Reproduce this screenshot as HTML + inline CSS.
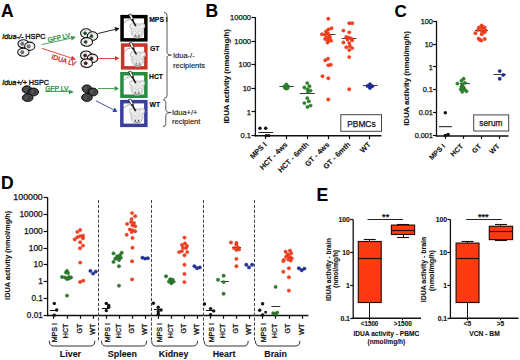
<!DOCTYPE html>
<html><head><meta charset="utf-8"><style>
html,body{margin:0;padding:0;background:#fff;}
svg{display:block;font-family:"Liberation Sans", sans-serif;}
</style></head><body>
<svg width="520" height="360" viewBox="0 0 520 360" font-family='"Liberation Sans", sans-serif'>
<rect width="520" height="360" fill="#fff"/>
<text x="1.00" y="16.50" font-size="17.5" font-weight="bold" text-anchor="start" fill="#000" stroke="#000" stroke-width="0.1">A</text>
<text x="205.40" y="16.60" font-size="17.5" font-weight="bold" text-anchor="start" fill="#000" stroke="#000" stroke-width="0.1">B</text>
<text x="394.50" y="16.60" font-size="17.0" font-weight="bold" text-anchor="start" fill="#000" stroke="#000" stroke-width="0.1">C</text>
<text x="1.00" y="188.60" font-size="17.5" font-weight="bold" text-anchor="start" fill="#000" stroke="#000" stroke-width="0.1">D</text>
<text x="316.60" y="200.80" font-size="17.5" font-weight="bold" text-anchor="start" fill="#000" stroke="#000" stroke-width="0.1">E</text>
<text x="2.3" y="39.0" font-size="7.6" fill="#111" stroke="#111" stroke-width="0.35" textLength="43.3" lengthAdjust="spacingAndGlyphs"><tspan font-style="italic">Idua-/-</tspan> HSPC</text>
<ellipse cx="23.35" cy="43.8" rx="5.35" ry="4.1" fill="#fbfafa" stroke="#111" stroke-width="1.1"/>
<ellipse cx="23.950000000000003" cy="43.9" rx="3.8499999999999996" ry="2.8" fill="none" stroke="#d4cccc" stroke-width="0.6"/>
<circle cx="22.35" cy="43.8" r="1.5" fill="#d8d8d8" stroke="#111" stroke-width="0.7"/>
<circle cx="22.35" cy="43.8" r="0.6" fill="#111"/>
<ellipse cx="29.75" cy="46.25" rx="5.05" ry="4.15" fill="#fbfafa" stroke="#111" stroke-width="1.1"/>
<ellipse cx="30.35" cy="46.35" rx="3.55" ry="2.8500000000000005" fill="none" stroke="#d4cccc" stroke-width="0.6"/>
<circle cx="28.75" cy="46.25" r="1.5" fill="#d8d8d8" stroke="#111" stroke-width="0.7"/>
<circle cx="28.75" cy="46.25" r="0.6" fill="#111"/>
<ellipse cx="23.35" cy="52.2" rx="5.65" ry="4.0" fill="#fbfafa" stroke="#111" stroke-width="1.1"/>
<ellipse cx="23.950000000000003" cy="52.300000000000004" rx="4.15" ry="2.7" fill="none" stroke="#d4cccc" stroke-width="0.6"/>
<circle cx="22.35" cy="52.2" r="1.5" fill="#d8d8d8" stroke="#111" stroke-width="0.7"/>
<circle cx="22.35" cy="52.2" r="0.6" fill="#111"/>
<ellipse cx="86.1" cy="33.2" rx="5.5" ry="4.4" fill="#fbfafa" stroke="#111" stroke-width="1.1"/>
<ellipse cx="86.69999999999999" cy="33.300000000000004" rx="4.0" ry="3.1000000000000005" fill="none" stroke="#d4cccc" stroke-width="0.6"/>
<circle cx="85.1" cy="33.2" r="1.5" fill="#2f6f3a" stroke="#1d4a25" stroke-width="0.7"/>
<circle cx="85.1" cy="33.2" r="0.6" fill="#111"/>
<ellipse cx="92.5" cy="36.1" rx="5.2" ry="4.3" fill="#fbfafa" stroke="#111" stroke-width="1.1"/>
<ellipse cx="93.1" cy="36.2" rx="3.7" ry="3.0" fill="none" stroke="#d4cccc" stroke-width="0.6"/>
<circle cx="91.5" cy="36.1" r="1.5" fill="#2f6f3a" stroke="#1d4a25" stroke-width="0.7"/>
<circle cx="91.5" cy="36.1" r="0.6" fill="#111"/>
<ellipse cx="86.7" cy="41.9" rx="5.8" ry="4.3" fill="#fbfafa" stroke="#111" stroke-width="1.1"/>
<ellipse cx="87.3" cy="42.0" rx="4.3" ry="3.0" fill="none" stroke="#d4cccc" stroke-width="0.6"/>
<circle cx="85.7" cy="41.9" r="1.5" fill="#2f6f3a" stroke="#1d4a25" stroke-width="0.7"/>
<circle cx="85.7" cy="41.9" r="0.6" fill="#111"/>
<ellipse cx="86.1" cy="55.4" rx="5.5" ry="4.4" fill="#fbfafa" stroke="#111" stroke-width="1.1"/>
<ellipse cx="86.69999999999999" cy="55.5" rx="4.0" ry="3.1000000000000005" fill="none" stroke="#d4cccc" stroke-width="0.6"/>
<circle cx="85.1" cy="55.4" r="1.5" fill="#6a1a22" stroke="#3a0a10" stroke-width="0.7"/>
<circle cx="85.1" cy="55.4" r="0.6" fill="#111"/>
<ellipse cx="92.5" cy="58.4" rx="5.2" ry="4.3" fill="#fbfafa" stroke="#111" stroke-width="1.1"/>
<ellipse cx="93.1" cy="58.5" rx="3.7" ry="3.0" fill="none" stroke="#d4cccc" stroke-width="0.6"/>
<circle cx="91.5" cy="58.4" r="1.5" fill="#6a1a22" stroke="#3a0a10" stroke-width="0.7"/>
<circle cx="91.5" cy="58.4" r="0.6" fill="#111"/>
<ellipse cx="86.7" cy="63.2" rx="5.8" ry="4.3" fill="#fbfafa" stroke="#111" stroke-width="1.1"/>
<ellipse cx="87.3" cy="63.300000000000004" rx="4.3" ry="3.0" fill="none" stroke="#d4cccc" stroke-width="0.6"/>
<circle cx="85.7" cy="63.2" r="1.5" fill="#6a1a22" stroke="#3a0a10" stroke-width="0.7"/>
<circle cx="85.7" cy="63.2" r="0.6" fill="#111"/>
<line x1="41.70" y1="44.60" x2="71.12" y2="38.17" stroke="#3a9a48" stroke-width="0.9"/>
<polygon points="76.00,37.10 71.63,40.51 70.60,35.82" fill="#3a9a48"/>
<line x1="41.70" y1="48.30" x2="71.25" y2="57.95" stroke="#d8382c" stroke-width="0.9"/>
<polygon points="76.00,59.50 70.50,60.23 71.99,55.67" fill="#d8382c"/>
<text x="48.20" y="42.30" font-size="6.6" font-weight="normal" text-anchor="start" fill="#2a8a3a" transform="rotate(-12.5 48.20 42.30)" stroke="#2a8a3a" stroke-width="0.3">GFP LV</text>
<text x="51.00" y="58.80" font-size="6.7" font-weight="normal" text-anchor="start" fill="#c02a2a" transform="rotate(17 51.00 58.80)" stroke="#c02a2a" stroke-width="0.3">IDUA LV</text>
<line x1="97.70" y1="33.60" x2="115.13" y2="29.36" stroke="#111" stroke-width="0.9"/>
<polygon points="119.50,28.30 115.69,31.70 114.56,27.03" fill="#111"/>
<line x1="97.70" y1="58.50" x2="115.00" y2="58.50" stroke="#d8382c" stroke-width="0.9"/>
<polygon points="119.50,58.30 115.00,60.70 115.00,55.90" fill="#d8382c"/>
<text x="2.3" y="85.0" font-size="7.6" fill="#111" stroke="#111" stroke-width="0.35" textLength="46.7" lengthAdjust="spacingAndGlyphs"><tspan font-style="italic">Idua+/+</tspan> HSPC</text>
<ellipse cx="27.0" cy="89.6" rx="4.8" ry="3.8" fill="#3a3a3a" stroke="#000" stroke-width="0.9"/>
<ellipse cx="27.3" cy="89.69999999999999" rx="3.3" ry="2.5" fill="none" stroke="#666" stroke-width="0.5"/>
<circle cx="26.0" cy="89.39999999999999" r="1.3" fill="#333" stroke="#777" stroke-width="0.4"/>
<circle cx="26.0" cy="89.39999999999999" r="0.45" fill="#ccc"/>
<ellipse cx="33.6" cy="92.0" rx="4.9" ry="3.95" fill="#3a3a3a" stroke="#000" stroke-width="0.9"/>
<ellipse cx="33.9" cy="92.1" rx="3.4000000000000004" ry="2.6500000000000004" fill="none" stroke="#666" stroke-width="0.5"/>
<circle cx="32.6" cy="91.8" r="1.3" fill="#333" stroke="#777" stroke-width="0.4"/>
<circle cx="32.6" cy="91.8" r="0.45" fill="#ccc"/>
<ellipse cx="27.65" cy="97.7" rx="5.35" ry="3.8" fill="#3a3a3a" stroke="#000" stroke-width="0.9"/>
<ellipse cx="27.95" cy="97.8" rx="3.8499999999999996" ry="2.5" fill="none" stroke="#666" stroke-width="0.5"/>
<circle cx="26.65" cy="97.5" r="1.3" fill="#333" stroke="#777" stroke-width="0.4"/>
<circle cx="26.65" cy="97.5" r="0.45" fill="#ccc"/>
<ellipse cx="86.9" cy="88.8" rx="4.8" ry="3.9" fill="#3a3a3a" stroke="#000" stroke-width="0.9"/>
<ellipse cx="87.2" cy="88.89999999999999" rx="3.3" ry="2.5999999999999996" fill="none" stroke="#666" stroke-width="0.5"/>
<circle cx="85.9" cy="88.6" r="1.3" fill="#333" stroke="#777" stroke-width="0.4"/>
<circle cx="85.9" cy="88.6" r="0.45" fill="#ccc"/>
<ellipse cx="93.0" cy="92.0" rx="4.9" ry="3.95" fill="#3a3a3a" stroke="#000" stroke-width="0.9"/>
<ellipse cx="93.3" cy="92.1" rx="3.4000000000000004" ry="2.6500000000000004" fill="none" stroke="#666" stroke-width="0.5"/>
<circle cx="92.0" cy="91.8" r="1.3" fill="#333" stroke="#777" stroke-width="0.4"/>
<circle cx="92.0" cy="91.8" r="0.45" fill="#ccc"/>
<ellipse cx="86.9" cy="97.5" rx="5.35" ry="3.9" fill="#3a3a3a" stroke="#000" stroke-width="0.9"/>
<ellipse cx="87.2" cy="97.6" rx="3.8499999999999996" ry="2.5999999999999996" fill="none" stroke="#666" stroke-width="0.5"/>
<circle cx="85.9" cy="97.3" r="1.3" fill="#333" stroke="#777" stroke-width="0.4"/>
<circle cx="85.9" cy="97.3" r="0.45" fill="#ccc"/>
<text x="45.20" y="90.60" font-size="6.5" font-weight="normal" text-anchor="start" fill="#2a8a3a" textLength="23.30" lengthAdjust="spacingAndGlyphs" stroke="#2a8a3a" stroke-width="0.25">GFP LV</text>
<line x1="45.00" y1="91.50" x2="68.90" y2="91.50" stroke="#3a9a48" stroke-width="0.9"/>
<polygon points="73.90,91.90 68.90,94.30 68.90,89.50" fill="#3a9a48"/>
<line x1="98.00" y1="88.50" x2="114.50" y2="88.50" stroke="#3a9a48" stroke-width="0.9"/>
<polygon points="119.00,88.50 114.50,90.90 114.50,86.10" fill="#3a9a48"/>
<line x1="96.00" y1="100.80" x2="113.49" y2="109.75" stroke="#2a3f9f" stroke-width="0.9"/>
<polygon points="117.50,111.80 112.40,111.89 114.59,107.61" fill="#2a3f9f"/>
<rect x="122.05" y="16.65" width="23.80" height="23.20" fill="#fff" stroke="#000" stroke-width="3.5"/>
<path d="M124.00 23.20 q2.5 -3.6 6.0 -3.6" stroke="#555560" stroke-width="0.55" fill="none"/>
<circle cx="132.40" cy="26.10" r="2.8" fill="#e4e4e4" stroke="#a0a0a0" stroke-width="0.5"/>
<circle cx="142.20" cy="26.10" r="2.8" fill="#e4e4e4" stroke="#a0a0a0" stroke-width="0.5"/>
<ellipse cx="137.20" cy="31.10" rx="6.2" ry="7.4" fill="#e6e6e6" stroke="#9a9a9a" stroke-width="0.55"/>
<circle cx="132.40" cy="26.30" r="1.6" fill="#f4f4f4"/>
<circle cx="142.20" cy="26.30" r="1.6" fill="#f4f4f4"/>
<circle cx="134.40" cy="32.70" r="1.7" fill="#f6f6f6" stroke="#aaa" stroke-width="0.4"/>
<circle cx="140.00" cy="32.70" r="1.7" fill="#f6f6f6" stroke="#aaa" stroke-width="0.4"/>
<path d="M134.20 36.40 q3.0 2.2 6.0 0" stroke="#555" stroke-width="0.7" fill="none"/>
<circle cx="135.70" cy="35.40" r="0.6" fill="#333"/><circle cx="138.70" cy="35.40" r="0.6" fill="#333"/>
<path d="M128.70 14.50 L131.10 14.00 L133.90 20.10 L131.70 20.80 Z" fill="#fff" stroke="#111" stroke-width="0.7"/>
<path d="M131.90 19.10 L135.90 26.10" stroke="#111" stroke-width="1.5"/>
<rect x="122.65" y="45.05" width="23.20" height="22.80" fill="#fff" stroke="#c4362a" stroke-width="3.5"/>
<path d="M124.60 51.60 q2.5 -3.6 6.0 -3.6" stroke="#555560" stroke-width="0.55" fill="none"/>
<circle cx="133.00" cy="54.50" r="2.8" fill="#e4e4e4" stroke="#a0a0a0" stroke-width="0.5"/>
<circle cx="142.80" cy="54.50" r="2.8" fill="#e4e4e4" stroke="#a0a0a0" stroke-width="0.5"/>
<ellipse cx="137.80" cy="59.50" rx="6.2" ry="7.4" fill="#e6e6e6" stroke="#9a9a9a" stroke-width="0.55"/>
<circle cx="133.00" cy="54.70" r="1.6" fill="#f4f4f4"/>
<circle cx="142.80" cy="54.70" r="1.6" fill="#f4f4f4"/>
<circle cx="135.00" cy="61.10" r="1.7" fill="#f6f6f6" stroke="#aaa" stroke-width="0.4"/>
<circle cx="140.60" cy="61.10" r="1.7" fill="#f6f6f6" stroke="#aaa" stroke-width="0.4"/>
<path d="M134.80 64.80 q3.0 2.2 6.0 0" stroke="#555" stroke-width="0.7" fill="none"/>
<circle cx="136.30" cy="63.80" r="0.6" fill="#333"/><circle cx="139.30" cy="63.80" r="0.6" fill="#333"/>
<path d="M129.30 42.90 L131.70 42.40 L134.50 48.50 L132.30 49.20 Z" fill="#fff" stroke="#111" stroke-width="0.7"/>
<path d="M132.50 47.50 L136.50 54.50" stroke="#111" stroke-width="1.5"/>
<rect x="121.95" y="73.75" width="23.90" height="22.50" fill="#fff" stroke="#268c42" stroke-width="3.5"/>
<path d="M123.90 80.30 q2.5 -3.6 6.0 -3.6" stroke="#555560" stroke-width="0.55" fill="none"/>
<circle cx="132.30" cy="83.20" r="2.8" fill="#e4e4e4" stroke="#a0a0a0" stroke-width="0.5"/>
<circle cx="142.10" cy="83.20" r="2.8" fill="#e4e4e4" stroke="#a0a0a0" stroke-width="0.5"/>
<ellipse cx="137.10" cy="88.20" rx="6.2" ry="7.4" fill="#e6e6e6" stroke="#9a9a9a" stroke-width="0.55"/>
<circle cx="132.30" cy="83.40" r="1.6" fill="#f4f4f4"/>
<circle cx="142.10" cy="83.40" r="1.6" fill="#f4f4f4"/>
<circle cx="134.30" cy="89.80" r="1.7" fill="#f6f6f6" stroke="#aaa" stroke-width="0.4"/>
<circle cx="139.90" cy="89.80" r="1.7" fill="#f6f6f6" stroke="#aaa" stroke-width="0.4"/>
<path d="M134.10 93.50 q3.0 2.2 6.0 0" stroke="#555" stroke-width="0.7" fill="none"/>
<circle cx="135.60" cy="92.50" r="0.6" fill="#333"/><circle cx="138.60" cy="92.50" r="0.6" fill="#333"/>
<path d="M128.60 71.60 L131.00 71.10 L133.80 77.20 L131.60 77.90 Z" fill="#fff" stroke="#111" stroke-width="0.7"/>
<path d="M131.80 76.20 L135.80 83.20" stroke="#111" stroke-width="1.5"/>
<rect x="121.85" y="101.65" width="24.00" height="23.70" fill="#fff" stroke="#3a3f9e" stroke-width="3.5"/>
<path d="M123.80 108.20 q2.5 -3.6 6.0 -3.6" stroke="#555560" stroke-width="0.55" fill="none"/>
<circle cx="132.20" cy="111.10" r="2.8" fill="#e4e4e4" stroke="#a0a0a0" stroke-width="0.5"/>
<circle cx="142.00" cy="111.10" r="2.8" fill="#e4e4e4" stroke="#a0a0a0" stroke-width="0.5"/>
<ellipse cx="137.00" cy="116.10" rx="6.2" ry="7.4" fill="#e6e6e6" stroke="#9a9a9a" stroke-width="0.55"/>
<circle cx="132.20" cy="111.30" r="1.6" fill="#f4f4f4"/>
<circle cx="142.00" cy="111.30" r="1.6" fill="#f4f4f4"/>
<circle cx="134.20" cy="117.70" r="1.7" fill="#f6f6f6" stroke="#aaa" stroke-width="0.4"/>
<circle cx="139.80" cy="117.70" r="1.7" fill="#f6f6f6" stroke="#aaa" stroke-width="0.4"/>
<path d="M134.00 121.40 q3.0 2.2 6.0 0" stroke="#555" stroke-width="0.7" fill="none"/>
<circle cx="135.50" cy="120.40" r="0.6" fill="#333"/><circle cx="138.50" cy="120.40" r="0.6" fill="#333"/>
<path d="M128.50 99.50 L130.90 99.00 L133.70 105.10 L131.50 105.80 Z" fill="#fff" stroke="#111" stroke-width="0.7"/>
<path d="M131.70 104.10 L135.70 111.10" stroke="#111" stroke-width="1.5"/>
<text x="149.20" y="22.40" font-size="6.8" font-weight="bold" text-anchor="start" fill="#000" stroke="#000" stroke-width="0.1">MPS I</text>
<text x="150.00" y="51.10" font-size="6.8" font-weight="bold" text-anchor="start" fill="#000" stroke="#000" stroke-width="0.1">GT</text>
<text x="149.00" y="79.10" font-size="6.8" font-weight="bold" text-anchor="start" fill="#000" stroke="#000" stroke-width="0.1">HCT</text>
<text x="149.50" y="106.60" font-size="6.8" font-weight="bold" text-anchor="start" fill="#000" stroke="#000" stroke-width="0.1">WT</text>
<path d="M164.00 12.50 q3 0 3 3 L167.00 52.00 q0 3 4.40 3 q-4.40 0 -4.40 3 L167.00 95.40 q0 3 -3 3" fill="none" stroke="#3a3a3a" stroke-width="0.85"/>
<path d="M162.80 99.60 q3 0 3 3 L165.80 109.60 q0 3 5.40 3 q-5.40 0 -5.40 3 L165.80 123.70 q0 3 -3 3" fill="none" stroke="#3a3a3a" stroke-width="0.85"/>
<text x="173.00" y="58.30" font-size="7.5" font-weight="normal" text-anchor="start" fill="#222" stroke="#222" stroke-width="0.15">Idua-/-</text>
<text x="173.00" y="67.70" font-size="7.5" font-weight="normal" text-anchor="start" fill="#222" stroke="#222" stroke-width="0.15">recipients</text>
<text x="172.00" y="114.90" font-size="7.5" font-weight="normal" text-anchor="start" fill="#222" stroke="#222" stroke-width="0.15">Idua+/+</text>
<text x="172.00" y="123.70" font-size="7.5" font-weight="normal" text-anchor="start" fill="#222" stroke="#222" stroke-width="0.15">recipient</text>
<line x1="255.40" y1="17.00" x2="255.40" y2="136.40" stroke="#111" stroke-width="1.3"/>
<line x1="254.80" y1="135.80" x2="381.50" y2="135.80" stroke="#111" stroke-width="1.5"/>
<line x1="251.50" y1="17.50" x2="255.40" y2="17.50" stroke="#111" stroke-width="1.2"/>
<text x="251.10" y="20.10" font-size="7.6" font-weight="normal" text-anchor="end" fill="#111" stroke="#111" stroke-width="0.25">10000</text>
<line x1="251.50" y1="41.50" x2="255.40" y2="41.50" stroke="#111" stroke-width="1.2"/>
<text x="251.10" y="43.70" font-size="7.6" font-weight="normal" text-anchor="end" fill="#111" stroke="#111" stroke-width="0.25">1000</text>
<line x1="251.50" y1="64.50" x2="255.40" y2="64.50" stroke="#111" stroke-width="1.2"/>
<text x="251.10" y="67.30" font-size="7.6" font-weight="normal" text-anchor="end" fill="#111" stroke="#111" stroke-width="0.25">100</text>
<line x1="251.50" y1="88.50" x2="255.40" y2="88.50" stroke="#111" stroke-width="1.2"/>
<text x="251.10" y="90.90" font-size="7.6" font-weight="normal" text-anchor="end" fill="#111" stroke="#111" stroke-width="0.25">10</text>
<line x1="251.50" y1="111.50" x2="255.40" y2="111.50" stroke="#111" stroke-width="1.2"/>
<text x="251.10" y="114.50" font-size="7.6" font-weight="normal" text-anchor="end" fill="#111" stroke="#111" stroke-width="0.25">1</text>
<line x1="251.50" y1="135.50" x2="255.40" y2="135.50" stroke="#111" stroke-width="1.2"/>
<text x="251.10" y="138.10" font-size="7.6" font-weight="normal" text-anchor="end" fill="#111" stroke="#111" stroke-width="0.25">0.1</text>
<line x1="265.50" y1="135.80" x2="265.50" y2="139.10" stroke="#111" stroke-width="1.2"/>
<line x1="286.50" y1="135.80" x2="286.50" y2="139.10" stroke="#111" stroke-width="1.2"/>
<line x1="307.50" y1="135.80" x2="307.50" y2="139.10" stroke="#111" stroke-width="1.2"/>
<line x1="328.50" y1="135.80" x2="328.50" y2="139.10" stroke="#111" stroke-width="1.2"/>
<line x1="349.50" y1="135.80" x2="349.50" y2="139.10" stroke="#111" stroke-width="1.2"/>
<line x1="369.50" y1="135.80" x2="369.50" y2="139.10" stroke="#111" stroke-width="1.2"/>
<text x="267.20" y="145.10" font-size="7.4" font-weight="bold" text-anchor="end" fill="#111" transform="rotate(-45 267.20 145.10)" stroke="#111" stroke-width="0.1">MPS I</text>
<text x="288.00" y="145.10" font-size="7.4" font-weight="bold" text-anchor="end" fill="#111" transform="rotate(-45 288.00 145.10)" stroke="#111" stroke-width="0.1">HCT - 4ws</text>
<text x="308.90" y="145.10" font-size="7.4" font-weight="bold" text-anchor="end" fill="#111" transform="rotate(-45 308.90 145.10)" stroke="#111" stroke-width="0.1">HCT - 6mth</text>
<text x="329.80" y="145.10" font-size="7.4" font-weight="bold" text-anchor="end" fill="#111" transform="rotate(-45 329.80 145.10)" stroke="#111" stroke-width="0.1">GT - 4ws</text>
<text x="350.60" y="145.10" font-size="7.4" font-weight="bold" text-anchor="end" fill="#111" transform="rotate(-45 350.60 145.10)" stroke="#111" stroke-width="0.1">GT - 6mth</text>
<text x="371.20" y="145.10" font-size="7.4" font-weight="bold" text-anchor="end" fill="#111" transform="rotate(-45 371.20 145.10)" stroke="#111" stroke-width="0.1">WT</text>
<text x="229.00" y="76.40" font-size="7.6" font-weight="bold" text-anchor="middle" fill="#111" transform="rotate(-90 229.00 76.40)" textLength="94.30" lengthAdjust="spacingAndGlyphs" stroke="#111" stroke-width="0.1">IDUA activity (nmol/mg/h)</text>
<rect x="340.80" y="114.70" width="40.70" height="16.60" fill="#fff" stroke="#444" stroke-width="1.0"/>
<text x="361.40" y="126.50" font-size="8.4" font-weight="normal" text-anchor="middle" fill="#111" stroke="#111" stroke-width="0.25">PBMCs</text>
<line x1="258.30" y1="132.50" x2="273.00" y2="132.50" stroke="#222" stroke-width="1.0"/>
<line x1="279.40" y1="86.50" x2="293.75" y2="86.50" stroke="#222" stroke-width="0.9"/>
<line x1="300.00" y1="93.50" x2="314.75" y2="93.50" stroke="#222" stroke-width="0.9"/>
<line x1="324.00" y1="34.50" x2="335.40" y2="34.50" stroke="#222" stroke-width="0.9"/>
<line x1="341.70" y1="38.50" x2="356.25" y2="38.50" stroke="#222" stroke-width="0.9"/>
<line x1="363.00" y1="85.50" x2="377.50" y2="85.50" stroke="#222" stroke-width="0.9"/>
<line x1="436.50" y1="20.80" x2="436.50" y2="136.50" stroke="#111" stroke-width="1.3"/>
<line x1="435.90" y1="135.90" x2="508.50" y2="135.90" stroke="#111" stroke-width="1.5"/>
<line x1="432.90" y1="21.50" x2="436.50" y2="21.50" stroke="#111" stroke-width="1.2"/>
<text x="432.90" y="23.85" font-size="7.3" font-weight="normal" text-anchor="end" fill="#111" stroke="#111" stroke-width="0.25">100</text>
<line x1="432.90" y1="44.50" x2="436.50" y2="44.50" stroke="#111" stroke-width="1.2"/>
<text x="432.90" y="46.69" font-size="7.3" font-weight="normal" text-anchor="end" fill="#111" stroke="#111" stroke-width="0.25">10</text>
<line x1="432.90" y1="66.50" x2="436.50" y2="66.50" stroke="#111" stroke-width="1.2"/>
<text x="432.90" y="69.53" font-size="7.3" font-weight="normal" text-anchor="end" fill="#111" stroke="#111" stroke-width="0.25">1</text>
<line x1="432.90" y1="89.50" x2="436.50" y2="89.50" stroke="#111" stroke-width="1.2"/>
<text x="432.90" y="92.37" font-size="7.3" font-weight="normal" text-anchor="end" fill="#111" stroke="#111" stroke-width="0.25">0.1</text>
<line x1="432.90" y1="112.50" x2="436.50" y2="112.50" stroke="#111" stroke-width="1.2"/>
<text x="432.90" y="115.21" font-size="7.3" font-weight="normal" text-anchor="end" fill="#111" stroke="#111" stroke-width="0.25">0.01</text>
<line x1="432.90" y1="135.50" x2="436.50" y2="135.50" stroke="#111" stroke-width="1.2"/>
<text x="432.90" y="138.05" font-size="7.3" font-weight="normal" text-anchor="end" fill="#111" stroke="#111" stroke-width="0.25">0.001</text>
<line x1="445.50" y1="135.90" x2="445.50" y2="138.90" stroke="#111" stroke-width="1.2"/>
<line x1="463.50" y1="135.90" x2="463.50" y2="138.90" stroke="#111" stroke-width="1.2"/>
<line x1="481.50" y1="135.90" x2="481.50" y2="138.90" stroke="#111" stroke-width="1.2"/>
<line x1="499.50" y1="135.90" x2="499.50" y2="138.90" stroke="#111" stroke-width="1.2"/>
<text x="445.60" y="146.70" font-size="7.1" font-weight="bold" text-anchor="end" fill="#111" transform="rotate(-45 445.60 146.70)" stroke="#111" stroke-width="0.1">MPS I</text>
<text x="463.70" y="146.70" font-size="7.1" font-weight="bold" text-anchor="end" fill="#111" transform="rotate(-45 463.70 146.70)" stroke="#111" stroke-width="0.1">HCT</text>
<text x="481.80" y="146.70" font-size="7.1" font-weight="bold" text-anchor="end" fill="#111" transform="rotate(-45 481.80 146.70)" stroke="#111" stroke-width="0.1">GT</text>
<text x="500.10" y="146.70" font-size="7.1" font-weight="bold" text-anchor="end" fill="#111" transform="rotate(-45 500.10 146.70)" stroke="#111" stroke-width="0.1">WT</text>
<text x="408.80" y="78.50" font-size="7.6" font-weight="bold" text-anchor="middle" fill="#111" transform="rotate(-90 408.80 78.50)" textLength="94.70" lengthAdjust="spacingAndGlyphs" stroke="#111" stroke-width="0.1">IDUA activity (nmol/mg/h)</text>
<rect x="473.70" y="114.90" width="35.00" height="16.10" fill="#fff" stroke="#444" stroke-width="1.0"/>
<text x="490.90" y="126.00" font-size="8.3" font-weight="normal" text-anchor="middle" fill="#111" stroke="#111" stroke-width="0.25">serum</text>
<line x1="439.00" y1="126.60" x2="451.90" y2="126.60" stroke="#444" stroke-width="1.3"/>
<line x1="460.00" y1="83.50" x2="469.90" y2="83.50" stroke="#222" stroke-width="0.9"/>
<line x1="475.00" y1="30.50" x2="487.90" y2="30.50" stroke="#222" stroke-width="0.9"/>
<line x1="493.50" y1="74.50" x2="506.00" y2="74.50" stroke="#222" stroke-width="0.9"/>
<line x1="47.60" y1="197.20" x2="47.60" y2="316.20" stroke="#111" stroke-width="1.3"/>
<line x1="47.00" y1="315.60" x2="308.40" y2="315.60" stroke="#111" stroke-width="1.5"/>
<line x1="43.60" y1="197.50" x2="47.60" y2="197.50" stroke="#111" stroke-width="1.2"/>
<text x="42.80" y="200.20" font-size="8.2" font-weight="normal" text-anchor="end" fill="#111" textLength="29.50" lengthAdjust="spacingAndGlyphs" stroke="#111" stroke-width="0.25">100000</text>
<line x1="43.60" y1="214.50" x2="47.60" y2="214.50" stroke="#111" stroke-width="1.2"/>
<text x="42.80" y="217.00" font-size="8.2" font-weight="normal" text-anchor="end" fill="#111" textLength="23.40" lengthAdjust="spacingAndGlyphs" stroke="#111" stroke-width="0.25">10000</text>
<line x1="43.60" y1="231.50" x2="47.60" y2="231.50" stroke="#111" stroke-width="1.2"/>
<text x="42.80" y="233.80" font-size="8.2" font-weight="normal" text-anchor="end" fill="#111" textLength="18.70" lengthAdjust="spacingAndGlyphs" stroke="#111" stroke-width="0.25">1000</text>
<line x1="43.60" y1="248.50" x2="47.60" y2="248.50" stroke="#111" stroke-width="1.2"/>
<text x="42.80" y="250.60" font-size="8.2" font-weight="normal" text-anchor="end" fill="#111" textLength="14.00" lengthAdjust="spacingAndGlyphs" stroke="#111" stroke-width="0.25">100</text>
<line x1="43.60" y1="264.50" x2="47.60" y2="264.50" stroke="#111" stroke-width="1.2"/>
<text x="42.80" y="267.40" font-size="8.2" font-weight="normal" text-anchor="end" fill="#111" textLength="9.30" lengthAdjust="spacingAndGlyphs" stroke="#111" stroke-width="0.25">10</text>
<line x1="43.60" y1="281.50" x2="47.60" y2="281.50" stroke="#111" stroke-width="1.2"/>
<text x="42.80" y="284.20" font-size="8.2" font-weight="normal" text-anchor="end" fill="#111" stroke="#111" stroke-width="0.25">1</text>
<line x1="43.60" y1="298.50" x2="47.60" y2="298.50" stroke="#111" stroke-width="1.2"/>
<text x="42.80" y="301.00" font-size="8.2" font-weight="normal" text-anchor="end" fill="#111" stroke="#111" stroke-width="0.25">0.1</text>
<line x1="43.60" y1="315.50" x2="47.60" y2="315.50" stroke="#111" stroke-width="1.2"/>
<text x="42.80" y="317.80" font-size="8.2" font-weight="normal" text-anchor="end" fill="#111" stroke="#111" stroke-width="0.25">0.01</text>
<line x1="53.50" y1="315.60" x2="53.50" y2="318.80" stroke="#111" stroke-width="1.2"/>
<text x="57.30" y="323.00" font-size="7.1" font-weight="normal" text-anchor="end" fill="#111" transform="rotate(-90 57.30 323.00)" stroke="#111" stroke-width="0.3">MPS I</text>
<line x1="67.50" y1="315.60" x2="67.50" y2="318.80" stroke="#111" stroke-width="1.2"/>
<text x="68.45" y="323.60" font-size="7.1" font-weight="normal" text-anchor="end" fill="#111" transform="rotate(-90 68.45 323.60)" stroke="#111" stroke-width="0.3">HCT</text>
<line x1="80.50" y1="315.60" x2="80.50" y2="318.80" stroke="#111" stroke-width="1.2"/>
<text x="81.60" y="323.60" font-size="7.1" font-weight="normal" text-anchor="end" fill="#111" transform="rotate(-90 81.60 323.60)" stroke="#111" stroke-width="0.3">GT</text>
<line x1="93.50" y1="315.60" x2="93.50" y2="318.80" stroke="#111" stroke-width="1.2"/>
<text x="94.75" y="323.60" font-size="7.1" font-weight="normal" text-anchor="end" fill="#111" transform="rotate(-90 94.75 323.60)" stroke="#111" stroke-width="0.3">WT</text>
<path d="M49.30 340.8 q0 5.2 4.2 5.2 L90.60 346.0 q4.2 0 4.2 -5.2" fill="none" stroke="#333" stroke-width="1.0"/>
<text x="70.45" y="357.00" font-size="8.9" font-weight="bold" text-anchor="middle" fill="#111" stroke="#111" stroke-width="0.1">Liver</text>
<line x1="106.50" y1="315.60" x2="106.50" y2="318.80" stroke="#111" stroke-width="1.2"/>
<text x="109.50" y="323.00" font-size="7.1" font-weight="normal" text-anchor="end" fill="#111" transform="rotate(-90 109.50 323.00)" stroke="#111" stroke-width="0.3">MPS I</text>
<line x1="119.50" y1="315.60" x2="119.50" y2="318.80" stroke="#111" stroke-width="1.2"/>
<text x="120.65" y="323.60" font-size="7.1" font-weight="normal" text-anchor="end" fill="#111" transform="rotate(-90 120.65 323.60)" stroke="#111" stroke-width="0.3">HCT</text>
<line x1="132.50" y1="315.60" x2="132.50" y2="318.80" stroke="#111" stroke-width="1.2"/>
<text x="133.80" y="323.60" font-size="7.1" font-weight="normal" text-anchor="end" fill="#111" transform="rotate(-90 133.80 323.60)" stroke="#111" stroke-width="0.3">GT</text>
<line x1="145.50" y1="315.60" x2="145.50" y2="318.80" stroke="#111" stroke-width="1.2"/>
<text x="146.95" y="323.60" font-size="7.1" font-weight="normal" text-anchor="end" fill="#111" transform="rotate(-90 146.95 323.60)" stroke="#111" stroke-width="0.3">WT</text>
<path d="M101.50 340.8 q0 5.2 4.2 5.2 L142.40 346.0 q4.2 0 4.2 -5.2" fill="none" stroke="#333" stroke-width="1.0"/>
<text x="122.40" y="357.00" font-size="8.9" font-weight="bold" text-anchor="middle" fill="#111" stroke="#111" stroke-width="0.1">Spleen</text>
<line x1="98.50" y1="200.00" x2="98.50" y2="341.50" stroke="#444" stroke-width="1.0" stroke-dasharray="3.2,1.7"/>
<line x1="158.50" y1="315.60" x2="158.50" y2="318.80" stroke="#111" stroke-width="1.2"/>
<text x="161.70" y="323.00" font-size="7.1" font-weight="normal" text-anchor="end" fill="#111" transform="rotate(-90 161.70 323.00)" stroke="#111" stroke-width="0.3">MPS I</text>
<line x1="171.50" y1="315.60" x2="171.50" y2="318.80" stroke="#111" stroke-width="1.2"/>
<text x="172.85" y="323.60" font-size="7.1" font-weight="normal" text-anchor="end" fill="#111" transform="rotate(-90 172.85 323.60)" stroke="#111" stroke-width="0.3">HCT</text>
<line x1="184.50" y1="315.60" x2="184.50" y2="318.80" stroke="#111" stroke-width="1.2"/>
<text x="186.00" y="323.60" font-size="7.1" font-weight="normal" text-anchor="end" fill="#111" transform="rotate(-90 186.00 323.60)" stroke="#111" stroke-width="0.3">GT</text>
<line x1="197.50" y1="315.60" x2="197.50" y2="318.80" stroke="#111" stroke-width="1.2"/>
<text x="199.15" y="323.60" font-size="7.1" font-weight="normal" text-anchor="end" fill="#111" transform="rotate(-90 199.15 323.60)" stroke="#111" stroke-width="0.3">WT</text>
<path d="M151.70 340.8 q0 5.2 4.2 5.2 L193.30 346.0 q4.2 0 4.2 -5.2" fill="none" stroke="#333" stroke-width="1.0"/>
<text x="173.60" y="357.00" font-size="8.9" font-weight="bold" text-anchor="middle" fill="#111" stroke="#111" stroke-width="0.1">Kidney</text>
<line x1="151.50" y1="200.00" x2="151.50" y2="341.50" stroke="#444" stroke-width="1.0" stroke-dasharray="3.2,1.7"/>
<line x1="210.50" y1="315.60" x2="210.50" y2="318.80" stroke="#111" stroke-width="1.2"/>
<text x="213.90" y="323.00" font-size="7.1" font-weight="normal" text-anchor="end" fill="#111" transform="rotate(-90 213.90 323.00)" stroke="#111" stroke-width="0.3">MPS I</text>
<line x1="223.50" y1="315.60" x2="223.50" y2="318.80" stroke="#111" stroke-width="1.2"/>
<text x="225.05" y="323.60" font-size="7.1" font-weight="normal" text-anchor="end" fill="#111" transform="rotate(-90 225.05 323.60)" stroke="#111" stroke-width="0.3">HCT</text>
<line x1="236.50" y1="315.60" x2="236.50" y2="318.80" stroke="#111" stroke-width="1.2"/>
<text x="238.20" y="323.60" font-size="7.1" font-weight="normal" text-anchor="end" fill="#111" transform="rotate(-90 238.20 323.60)" stroke="#111" stroke-width="0.3">GT</text>
<line x1="249.50" y1="315.60" x2="249.50" y2="318.80" stroke="#111" stroke-width="1.2"/>
<text x="251.35" y="323.60" font-size="7.1" font-weight="normal" text-anchor="end" fill="#111" transform="rotate(-90 251.35 323.60)" stroke="#111" stroke-width="0.3">WT</text>
<path d="M204.20 340.8 q0 5.2 4.2 5.2 L244.00 346.0 q4.2 0 4.2 -5.2" fill="none" stroke="#333" stroke-width="1.0"/>
<text x="224.00" y="357.00" font-size="8.9" font-weight="bold" text-anchor="middle" fill="#111" stroke="#111" stroke-width="0.1">Heart</text>
<line x1="203.50" y1="200.00" x2="203.50" y2="341.50" stroke="#444" stroke-width="1.0" stroke-dasharray="3.2,1.7"/>
<line x1="262.50" y1="315.60" x2="262.50" y2="318.80" stroke="#111" stroke-width="1.2"/>
<text x="266.10" y="323.00" font-size="7.1" font-weight="normal" text-anchor="end" fill="#111" transform="rotate(-90 266.10 323.00)" stroke="#111" stroke-width="0.3">MPS I</text>
<line x1="275.50" y1="315.60" x2="275.50" y2="318.80" stroke="#111" stroke-width="1.2"/>
<text x="277.25" y="323.60" font-size="7.1" font-weight="normal" text-anchor="end" fill="#111" transform="rotate(-90 277.25 323.60)" stroke="#111" stroke-width="0.3">HCT</text>
<line x1="289.50" y1="315.60" x2="289.50" y2="318.80" stroke="#111" stroke-width="1.2"/>
<text x="290.40" y="323.60" font-size="7.1" font-weight="normal" text-anchor="end" fill="#111" transform="rotate(-90 290.40 323.60)" stroke="#111" stroke-width="0.3">GT</text>
<line x1="302.50" y1="315.60" x2="302.50" y2="318.80" stroke="#111" stroke-width="1.2"/>
<text x="303.55" y="323.60" font-size="7.1" font-weight="normal" text-anchor="end" fill="#111" transform="rotate(-90 303.55 323.60)" stroke="#111" stroke-width="0.3">WT</text>
<path d="M255.40 340.8 q0 5.2 4.2 5.2 L295.70 346.0 q4.2 0 4.2 -5.2" fill="none" stroke="#333" stroke-width="1.0"/>
<text x="275.60" y="357.00" font-size="8.9" font-weight="bold" text-anchor="middle" fill="#111" stroke="#111" stroke-width="0.1">Brain</text>
<line x1="254.50" y1="200.00" x2="254.50" y2="341.50" stroke="#444" stroke-width="1.0" stroke-dasharray="3.2,1.7"/>
<text x="10.40" y="255.40" font-size="7.3" font-weight="bold" text-anchor="middle" fill="#111" transform="rotate(-90 10.40 255.40)" textLength="89.00" lengthAdjust="spacingAndGlyphs" stroke="#111" stroke-width="0.1">IDUA activity (nmol/mg/h)</text>
<line x1="49.80" y1="310.50" x2="58.00" y2="310.50" stroke="#111" stroke-width="1.0"/>
<line x1="101.80" y1="308.50" x2="108.70" y2="308.50" stroke="#111" stroke-width="1.0"/>
<line x1="154.00" y1="309.50" x2="161.00" y2="309.50" stroke="#111" stroke-width="1.0"/>
<line x1="232.00" y1="247.50" x2="241.00" y2="247.50" stroke="#222" stroke-width="0.9"/>
<line x1="220.60" y1="281.50" x2="229.00" y2="281.50" stroke="#222" stroke-width="0.9"/>
<line x1="206.00" y1="310.50" x2="213.70" y2="310.50" stroke="#111" stroke-width="1.0"/>
<line x1="271.40" y1="306.50" x2="280.30" y2="306.50" stroke="#333" stroke-width="1.0"/>
<rect x="264.40" y="311.00" width="2.50" height="2.50" fill="#111" stroke="none" stroke-width="1"/>
<line x1="353.20" y1="219.40" x2="353.20" y2="318.90" stroke="#111" stroke-width="1.3"/>
<line x1="352.60" y1="318.30" x2="421.00" y2="318.30" stroke="#111" stroke-width="1.5"/>
<line x1="350.20" y1="219.50" x2="353.20" y2="219.50" stroke="#111" stroke-width="1.2"/>
<text x="349.90" y="222.30" font-size="6.8" font-weight="bold" text-anchor="end" fill="#111" stroke="#111" stroke-width="0.1">100</text>
<line x1="350.20" y1="252.50" x2="353.20" y2="252.50" stroke="#111" stroke-width="1.2"/>
<text x="349.90" y="255.10" font-size="6.8" font-weight="bold" text-anchor="end" fill="#111" stroke="#111" stroke-width="0.1">10</text>
<line x1="350.20" y1="285.50" x2="353.20" y2="285.50" stroke="#111" stroke-width="1.2"/>
<text x="349.90" y="287.90" font-size="6.8" font-weight="bold" text-anchor="end" fill="#111" stroke="#111" stroke-width="0.1">1</text>
<line x1="350.20" y1="318.50" x2="353.20" y2="318.50" stroke="#111" stroke-width="1.2"/>
<text x="349.90" y="320.70" font-size="6.8" font-weight="bold" text-anchor="end" fill="#111" stroke="#111" stroke-width="0.1">0.1</text>
<line x1="369.50" y1="239.40" x2="369.50" y2="241.50" stroke="#111" stroke-width="1.0"/>
<line x1="369.50" y1="302.50" x2="369.50" y2="318.30" stroke="#111" stroke-width="1.0"/>
<line x1="363.75" y1="239.50" x2="375.75" y2="239.50" stroke="#111" stroke-width="1.1"/>
<rect x="358.30" y="241.50" width="22.90" height="61.00" fill="#fd3a12" stroke="#2a0a04" stroke-width="1.15"/>
<line x1="358.30" y1="258.50" x2="381.20" y2="258.50" stroke="#2a0a04" stroke-width="1.2"/>
<line x1="403.50" y1="224.50" x2="403.50" y2="225.10" stroke="#111" stroke-width="1.0"/>
<line x1="403.50" y1="234.50" x2="403.50" y2="237.20" stroke="#111" stroke-width="1.0"/>
<line x1="397.00" y1="224.50" x2="409.00" y2="224.50" stroke="#111" stroke-width="1.1"/>
<line x1="397.00" y1="237.50" x2="409.00" y2="237.50" stroke="#111" stroke-width="1.1"/>
<rect x="391.40" y="225.10" width="23.20" height="9.40" fill="#fd3a12" stroke="#2a0a04" stroke-width="1.15"/>
<line x1="391.40" y1="230.50" x2="414.60" y2="230.50" stroke="#2a0a04" stroke-width="1.2"/>
<line x1="367.50" y1="219.50" x2="403.00" y2="219.50" stroke="#222" stroke-width="1.0"/>
<text x="385.70" y="220.30" font-size="9.2" font-weight="bold" text-anchor="middle" fill="#111" stroke="#111" stroke-width="0.1">**</text>
<text x="331.00" y="269.60" font-size="6.8" font-weight="bold" text-anchor="middle" fill="#111" transform="rotate(-90 331.00 269.60)" textLength="62.60" lengthAdjust="spacingAndGlyphs" stroke="#111" stroke-width="0.1">IDUA activity - brain</text>
<text x="338.30" y="268.90" font-size="6.8" font-weight="bold" text-anchor="middle" fill="#111" transform="rotate(-90 338.30 268.90)" textLength="37.80" lengthAdjust="spacingAndGlyphs" stroke="#111" stroke-width="0.1">(nmol/mg/h)</text>
<text x="369.60" y="326.40" font-size="6.6" font-weight="bold" text-anchor="middle" fill="#111" textLength="17.50" lengthAdjust="spacingAndGlyphs" stroke="#111" stroke-width="0.1">&lt;1500</text>
<line x1="369.50" y1="318.30" x2="369.50" y2="320.30" stroke="#111" stroke-width="1.0"/>
<text x="402.80" y="326.40" font-size="6.6" font-weight="bold" text-anchor="middle" fill="#111" textLength="18.20" lengthAdjust="spacingAndGlyphs" stroke="#111" stroke-width="0.1">&gt;1500</text>
<line x1="402.50" y1="318.30" x2="402.50" y2="320.30" stroke="#111" stroke-width="1.0"/>
<text x="386.40" y="335.50" font-size="7.0" font-weight="bold" text-anchor="middle" fill="#111" textLength="65.90" lengthAdjust="spacingAndGlyphs" stroke="#111" stroke-width="0.1">IDUA activity - PBMC</text>
<text x="386.40" y="343.60" font-size="7.0" font-weight="bold" text-anchor="middle" fill="#111" textLength="37.70" lengthAdjust="spacingAndGlyphs" stroke="#111" stroke-width="0.1">(nmol/mg/h)</text>
<line x1="450.40" y1="219.40" x2="450.40" y2="318.90" stroke="#111" stroke-width="1.3"/>
<line x1="449.80" y1="318.30" x2="518.50" y2="318.30" stroke="#111" stroke-width="1.5"/>
<line x1="447.40" y1="219.50" x2="450.40" y2="219.50" stroke="#111" stroke-width="1.2"/>
<text x="447.10" y="222.30" font-size="6.8" font-weight="bold" text-anchor="end" fill="#111" stroke="#111" stroke-width="0.1">100</text>
<line x1="447.40" y1="252.50" x2="450.40" y2="252.50" stroke="#111" stroke-width="1.2"/>
<text x="447.10" y="255.10" font-size="6.8" font-weight="bold" text-anchor="end" fill="#111" stroke="#111" stroke-width="0.1">10</text>
<line x1="447.40" y1="285.50" x2="450.40" y2="285.50" stroke="#111" stroke-width="1.2"/>
<text x="447.10" y="287.90" font-size="6.8" font-weight="bold" text-anchor="end" fill="#111" stroke="#111" stroke-width="0.1">1</text>
<line x1="447.40" y1="318.50" x2="450.40" y2="318.50" stroke="#111" stroke-width="1.2"/>
<text x="447.10" y="320.70" font-size="6.8" font-weight="bold" text-anchor="end" fill="#111" stroke="#111" stroke-width="0.1">0.1</text>
<line x1="467.50" y1="241.50" x2="467.50" y2="243.10" stroke="#111" stroke-width="1.0"/>
<line x1="467.50" y1="302.50" x2="467.50" y2="318.30" stroke="#111" stroke-width="1.0"/>
<line x1="461.55" y1="241.50" x2="473.55" y2="241.50" stroke="#111" stroke-width="1.1"/>
<rect x="456.10" y="243.10" width="22.90" height="59.40" fill="#fd3a12" stroke="#2a0a04" stroke-width="1.15"/>
<line x1="456.10" y1="258.50" x2="479.00" y2="258.50" stroke="#2a0a04" stroke-width="1.2"/>
<line x1="500.50" y1="224.30" x2="500.50" y2="226.30" stroke="#111" stroke-width="1.0"/>
<line x1="500.50" y1="239.60" x2="500.50" y2="240.60" stroke="#111" stroke-width="1.0"/>
<line x1="494.95" y1="224.50" x2="506.95" y2="224.50" stroke="#111" stroke-width="1.1"/>
<line x1="494.95" y1="240.50" x2="506.95" y2="240.50" stroke="#111" stroke-width="1.1"/>
<rect x="489.30" y="226.30" width="23.30" height="13.30" fill="#fd3a12" stroke="#2a0a04" stroke-width="1.15"/>
<line x1="489.30" y1="231.50" x2="512.60" y2="231.50" stroke="#2a0a04" stroke-width="1.2"/>
<line x1="466.10" y1="219.50" x2="501.70" y2="219.50" stroke="#222" stroke-width="1.0"/>
<text x="483.30" y="220.40" font-size="9.2" font-weight="bold" text-anchor="middle" fill="#111" stroke="#111" stroke-width="0.1">***</text>
<text x="425.90" y="269.50" font-size="6.8" font-weight="bold" text-anchor="middle" fill="#111" transform="rotate(-90 425.90 269.50)" textLength="65.50" lengthAdjust="spacingAndGlyphs" stroke="#111" stroke-width="0.1">IDUA  activity - brain</text>
<text x="434.20" y="270.50" font-size="6.8" font-weight="bold" text-anchor="middle" fill="#111" transform="rotate(-90 434.20 270.50)" textLength="41.00" lengthAdjust="spacingAndGlyphs" stroke="#111" stroke-width="0.1">(nmol/mg/h)</text>
<text x="467.50" y="326.40" font-size="6.6" font-weight="bold" text-anchor="middle" fill="#111" stroke="#111" stroke-width="0.1">&lt;5</text>
<line x1="467.50" y1="318.30" x2="467.50" y2="320.30" stroke="#111" stroke-width="1.0"/>
<text x="500.50" y="326.40" font-size="6.6" font-weight="bold" text-anchor="middle" fill="#111" stroke="#111" stroke-width="0.1">&gt;5</text>
<line x1="500.50" y1="318.30" x2="500.50" y2="320.30" stroke="#111" stroke-width="1.0"/>
<text x="484.50" y="336.10" font-size="7.0" font-weight="bold" text-anchor="middle" fill="#111" textLength="30.50" lengthAdjust="spacingAndGlyphs" stroke="#111" stroke-width="0.1">VCN - BM</text>
<circle cx="260.00" cy="128.30" r="1.72" fill="#111"/>
<circle cx="265.70" cy="128.30" r="1.72" fill="#111"/>
<circle cx="266.25" cy="135.60" r="1.72" fill="#111"/>
<circle cx="268.75" cy="135.60" r="1.72" fill="#111"/>
<circle cx="284.50" cy="86.50" r="1.72" fill="#2b842b" stroke="#1f6a22" stroke-width="0.35"/>
<circle cx="286.30" cy="84.50" r="1.72" fill="#2b842b" stroke="#1f6a22" stroke-width="0.35"/>
<circle cx="288.00" cy="86.50" r="1.72" fill="#2b842b" stroke="#1f6a22" stroke-width="0.35"/>
<circle cx="286.30" cy="88.50" r="1.72" fill="#2b842b" stroke="#1f6a22" stroke-width="0.35"/>
<circle cx="285.00" cy="87.80" r="1.72" fill="#2b842b" stroke="#1f6a22" stroke-width="0.35"/>
<circle cx="287.60" cy="88.00" r="1.72" fill="#2b842b" stroke="#1f6a22" stroke-width="0.35"/>
<circle cx="286.30" cy="86.50" r="1.72" fill="#2b842b" stroke="#1f6a22" stroke-width="0.35"/>
<circle cx="307.25" cy="83.10" r="1.72" fill="#2b842b" stroke="#1f6a22" stroke-width="0.35"/>
<circle cx="309.40" cy="86.25" r="1.72" fill="#2b842b" stroke="#1f6a22" stroke-width="0.35"/>
<circle cx="304.40" cy="87.50" r="1.72" fill="#2b842b" stroke="#1f6a22" stroke-width="0.35"/>
<circle cx="307.50" cy="89.40" r="1.72" fill="#2b842b" stroke="#1f6a22" stroke-width="0.35"/>
<circle cx="310.60" cy="90.60" r="1.72" fill="#2b842b" stroke="#1f6a22" stroke-width="0.35"/>
<circle cx="308.10" cy="91.90" r="1.72" fill="#2b842b" stroke="#1f6a22" stroke-width="0.35"/>
<circle cx="307.25" cy="98.10" r="1.72" fill="#2b842b" stroke="#1f6a22" stroke-width="0.35"/>
<circle cx="308.75" cy="101.25" r="1.72" fill="#2b842b" stroke="#1f6a22" stroke-width="0.35"/>
<circle cx="304.40" cy="103.10" r="1.72" fill="#2b842b" stroke="#1f6a22" stroke-width="0.35"/>
<circle cx="310.60" cy="105.60" r="1.72" fill="#2b842b" stroke="#1f6a22" stroke-width="0.35"/>
<circle cx="307.50" cy="106.90" r="1.72" fill="#2b842b" stroke="#1f6a22" stroke-width="0.35"/>
<circle cx="328.30" cy="18.75" r="1.72" fill="#f8401a" stroke="#c8281a" stroke-width="0.35"/>
<circle cx="331.50" cy="28.20" r="1.72" fill="#f8401a" stroke="#c8281a" stroke-width="0.35"/>
<circle cx="328.50" cy="29.50" r="1.72" fill="#f8401a" stroke="#c8281a" stroke-width="0.35"/>
<circle cx="326.00" cy="31.50" r="1.72" fill="#f8401a" stroke="#c8281a" stroke-width="0.35"/>
<circle cx="322.00" cy="34.30" r="1.72" fill="#f8401a" stroke="#c8281a" stroke-width="0.35"/>
<circle cx="325.00" cy="34.80" r="1.72" fill="#f8401a" stroke="#c8281a" stroke-width="0.35"/>
<circle cx="328.00" cy="33.50" r="1.72" fill="#f8401a" stroke="#c8281a" stroke-width="0.35"/>
<circle cx="329.50" cy="36.00" r="1.72" fill="#f8401a" stroke="#c8281a" stroke-width="0.35"/>
<circle cx="327.00" cy="37.50" r="1.72" fill="#f8401a" stroke="#c8281a" stroke-width="0.35"/>
<circle cx="325.00" cy="39.00" r="1.72" fill="#f8401a" stroke="#c8281a" stroke-width="0.35"/>
<circle cx="328.00" cy="40.50" r="1.72" fill="#f8401a" stroke="#c8281a" stroke-width="0.35"/>
<circle cx="331.00" cy="40.80" r="1.72" fill="#f8401a" stroke="#c8281a" stroke-width="0.35"/>
<circle cx="327.50" cy="42.50" r="1.72" fill="#f8401a" stroke="#c8281a" stroke-width="0.35"/>
<circle cx="330.00" cy="38.00" r="1.72" fill="#f8401a" stroke="#c8281a" stroke-width="0.35"/>
<circle cx="325.30" cy="60.30" r="1.72" fill="#f8401a" stroke="#c8281a" stroke-width="0.35"/>
<circle cx="328.00" cy="58.70" r="1.72" fill="#f8401a" stroke="#c8281a" stroke-width="0.35"/>
<circle cx="328.30" cy="65.30" r="1.72" fill="#f8401a" stroke="#c8281a" stroke-width="0.35"/>
<circle cx="330.80" cy="64.70" r="1.72" fill="#f8401a" stroke="#c8281a" stroke-width="0.35"/>
<circle cx="322.50" cy="76.20" r="1.72" fill="#f8401a" stroke="#c8281a" stroke-width="0.35"/>
<circle cx="328.30" cy="78.30" r="1.72" fill="#f8401a" stroke="#c8281a" stroke-width="0.35"/>
<circle cx="328.30" cy="99.50" r="1.72" fill="#f8401a" stroke="#c8281a" stroke-width="0.35"/>
<circle cx="349.25" cy="23.25" r="1.72" fill="#f8401a" stroke="#c8281a" stroke-width="0.35"/>
<circle cx="352.20" cy="23.25" r="1.72" fill="#f8401a" stroke="#c8281a" stroke-width="0.35"/>
<circle cx="343.40" cy="30.60" r="1.72" fill="#f8401a" stroke="#c8281a" stroke-width="0.35"/>
<circle cx="349.25" cy="32.35" r="1.72" fill="#f8401a" stroke="#c8281a" stroke-width="0.35"/>
<circle cx="346.30" cy="36.90" r="1.72" fill="#f8401a" stroke="#c8281a" stroke-width="0.35"/>
<circle cx="348.70" cy="37.80" r="1.72" fill="#f8401a" stroke="#c8281a" stroke-width="0.35"/>
<circle cx="351.00" cy="38.40" r="1.72" fill="#f8401a" stroke="#c8281a" stroke-width="0.35"/>
<circle cx="352.20" cy="40.20" r="1.72" fill="#f8401a" stroke="#c8281a" stroke-width="0.35"/>
<circle cx="347.50" cy="39.60" r="1.72" fill="#f8401a" stroke="#c8281a" stroke-width="0.35"/>
<circle cx="343.40" cy="42.50" r="1.72" fill="#f8401a" stroke="#c8281a" stroke-width="0.35"/>
<circle cx="349.25" cy="43.10" r="1.72" fill="#f8401a" stroke="#c8281a" stroke-width="0.35"/>
<circle cx="346.30" cy="47.20" r="1.72" fill="#f8401a" stroke="#c8281a" stroke-width="0.35"/>
<circle cx="349.80" cy="46.00" r="1.72" fill="#f8401a" stroke="#c8281a" stroke-width="0.35"/>
<circle cx="352.20" cy="48.10" r="1.72" fill="#f8401a" stroke="#c8281a" stroke-width="0.35"/>
<circle cx="349.25" cy="50.10" r="1.72" fill="#f8401a" stroke="#c8281a" stroke-width="0.35"/>
<circle cx="349.25" cy="57.10" r="1.72" fill="#f8401a" stroke="#c8281a" stroke-width="0.35"/>
<circle cx="349.20" cy="89.20" r="1.72" fill="#f8401a" stroke="#c8281a" stroke-width="0.35"/>
<circle cx="367.50" cy="86.00" r="1.72" fill="#1f2f9c" stroke="#16237a" stroke-width="0.35"/>
<circle cx="370.00" cy="84.30" r="1.72" fill="#1f2f9c" stroke="#16237a" stroke-width="0.35"/>
<circle cx="372.30" cy="86.20" r="1.72" fill="#1f2f9c" stroke="#16237a" stroke-width="0.35"/>
<circle cx="370.00" cy="88.00" r="1.72" fill="#1f2f9c" stroke="#16237a" stroke-width="0.35"/>
<circle cx="369.50" cy="86.30" r="1.72" fill="#1f2f9c" stroke="#16237a" stroke-width="0.35"/>
<circle cx="445.30" cy="112.80" r="1.72" fill="#111"/>
<circle cx="445.30" cy="135.40" r="1.72" fill="#111"/>
<circle cx="448.10" cy="134.40" r="1.72" fill="#111"/>
<circle cx="463.60" cy="78.75" r="1.72" fill="#2b842b" stroke="#1f6a22" stroke-width="0.35"/>
<circle cx="461.50" cy="80.80" r="1.72" fill="#2b842b" stroke="#1f6a22" stroke-width="0.35"/>
<circle cx="457.40" cy="83.60" r="1.72" fill="#2b842b" stroke="#1f6a22" stroke-width="0.35"/>
<circle cx="465.00" cy="82.90" r="1.72" fill="#2b842b" stroke="#1f6a22" stroke-width="0.35"/>
<circle cx="461.50" cy="86.40" r="1.72" fill="#2b842b" stroke="#1f6a22" stroke-width="0.35"/>
<circle cx="460.80" cy="89.20" r="1.72" fill="#2b842b" stroke="#1f6a22" stroke-width="0.35"/>
<circle cx="464.30" cy="89.20" r="1.72" fill="#2b842b" stroke="#1f6a22" stroke-width="0.35"/>
<circle cx="466.40" cy="91.25" r="1.72" fill="#2b842b" stroke="#1f6a22" stroke-width="0.35"/>
<circle cx="462.20" cy="91.70" r="1.72" fill="#2b842b" stroke="#1f6a22" stroke-width="0.35"/>
<circle cx="462.50" cy="84.50" r="1.72" fill="#2b842b" stroke="#1f6a22" stroke-width="0.35"/>
<circle cx="463.50" cy="87.50" r="1.72" fill="#2b842b" stroke="#1f6a22" stroke-width="0.35"/>
<circle cx="481.70" cy="25.50" r="1.72" fill="#f8401a" stroke="#c8281a" stroke-width="0.35"/>
<circle cx="479.00" cy="27.50" r="1.72" fill="#f8401a" stroke="#c8281a" stroke-width="0.35"/>
<circle cx="484.50" cy="27.50" r="1.72" fill="#f8401a" stroke="#c8281a" stroke-width="0.35"/>
<circle cx="482.00" cy="28.50" r="1.72" fill="#f8401a" stroke="#c8281a" stroke-width="0.35"/>
<circle cx="478.00" cy="30.00" r="1.72" fill="#f8401a" stroke="#c8281a" stroke-width="0.35"/>
<circle cx="485.50" cy="30.50" r="1.72" fill="#f8401a" stroke="#c8281a" stroke-width="0.35"/>
<circle cx="481.50" cy="31.00" r="1.72" fill="#f8401a" stroke="#c8281a" stroke-width="0.35"/>
<circle cx="484.50" cy="32.30" r="1.72" fill="#f8401a" stroke="#c8281a" stroke-width="0.35"/>
<circle cx="475.40" cy="33.20" r="1.72" fill="#f8401a" stroke="#c8281a" stroke-width="0.35"/>
<circle cx="481.70" cy="34.30" r="1.72" fill="#f8401a" stroke="#c8281a" stroke-width="0.35"/>
<circle cx="478.60" cy="38.60" r="1.72" fill="#f8401a" stroke="#c8281a" stroke-width="0.35"/>
<circle cx="484.80" cy="39.00" r="1.72" fill="#f8401a" stroke="#c8281a" stroke-width="0.35"/>
<circle cx="481.30" cy="40.50" r="1.72" fill="#f8401a" stroke="#c8281a" stroke-width="0.35"/>
<circle cx="479.70" cy="39.80" r="1.72" fill="#f8401a" stroke="#c8281a" stroke-width="0.35"/>
<circle cx="499.70" cy="71.10" r="1.72" fill="#1f2f9c" stroke="#16237a" stroke-width="0.35"/>
<circle cx="503.20" cy="75.00" r="1.72" fill="#1f2f9c" stroke="#16237a" stroke-width="0.35"/>
<circle cx="499.70" cy="78.75" r="1.72" fill="#1f2f9c" stroke="#16237a" stroke-width="0.35"/>
<circle cx="80.20" cy="230.00" r="1.72" fill="#f8401a" stroke="#c8281a" stroke-width="0.35"/>
<circle cx="77.40" cy="231.90" r="1.72" fill="#f8401a" stroke="#c8281a" stroke-width="0.35"/>
<circle cx="83.00" cy="235.60" r="1.72" fill="#f8401a" stroke="#c8281a" stroke-width="0.35"/>
<circle cx="80.20" cy="236.10" r="1.72" fill="#f8401a" stroke="#c8281a" stroke-width="0.35"/>
<circle cx="77.40" cy="237.20" r="1.72" fill="#f8401a" stroke="#c8281a" stroke-width="0.35"/>
<circle cx="74.70" cy="239.40" r="1.72" fill="#f8401a" stroke="#c8281a" stroke-width="0.35"/>
<circle cx="83.00" cy="238.30" r="1.72" fill="#f8401a" stroke="#c8281a" stroke-width="0.35"/>
<circle cx="80.20" cy="242.20" r="1.72" fill="#f8401a" stroke="#c8281a" stroke-width="0.35"/>
<circle cx="83.00" cy="245.60" r="1.72" fill="#f8401a" stroke="#c8281a" stroke-width="0.35"/>
<circle cx="80.00" cy="248.30" r="1.72" fill="#f8401a" stroke="#c8281a" stroke-width="0.35"/>
<circle cx="80.20" cy="262.60" r="1.72" fill="#f8401a" stroke="#c8281a" stroke-width="0.35"/>
<circle cx="80.10" cy="282.00" r="1.72" fill="#f8401a" stroke="#c8281a" stroke-width="0.35"/>
<circle cx="83.20" cy="280.80" r="1.72" fill="#f8401a" stroke="#c8281a" stroke-width="0.35"/>
<circle cx="67.00" cy="270.90" r="1.72" fill="#2e7d2e" stroke="#1c5a1f" stroke-width="0.35"/>
<circle cx="66.00" cy="272.50" r="1.72" fill="#2e7d2e" stroke="#1c5a1f" stroke-width="0.35"/>
<circle cx="68.00" cy="273.00" r="1.72" fill="#2e7d2e" stroke="#1c5a1f" stroke-width="0.35"/>
<circle cx="62.00" cy="277.00" r="1.72" fill="#2e7d2e" stroke="#1c5a1f" stroke-width="0.35"/>
<circle cx="65.00" cy="277.50" r="1.72" fill="#2e7d2e" stroke="#1c5a1f" stroke-width="0.35"/>
<circle cx="69.00" cy="277.00" r="1.72" fill="#2e7d2e" stroke="#1c5a1f" stroke-width="0.35"/>
<circle cx="71.00" cy="277.50" r="1.72" fill="#2e7d2e" stroke="#1c5a1f" stroke-width="0.35"/>
<circle cx="67.00" cy="279.00" r="1.72" fill="#2e7d2e" stroke="#1c5a1f" stroke-width="0.35"/>
<circle cx="69.00" cy="278.50" r="1.72" fill="#2e7d2e" stroke="#1c5a1f" stroke-width="0.35"/>
<circle cx="67.00" cy="295.60" r="1.72" fill="#2e7d2e" stroke="#1c5a1f" stroke-width="0.35"/>
<circle cx="90.40" cy="270.90" r="1.72" fill="#1f2f9c" stroke="#16237a" stroke-width="0.35"/>
<circle cx="93.10" cy="273.60" r="1.72" fill="#1f2f9c" stroke="#16237a" stroke-width="0.35"/>
<circle cx="95.80" cy="271.60" r="1.72" fill="#1f2f9c" stroke="#16237a" stroke-width="0.35"/>
<circle cx="54.30" cy="303.40" r="1.72" fill="#111"/>
<circle cx="56.70" cy="310.00" r="1.72" fill="#111"/>
<circle cx="54.30" cy="315.30" r="1.72" fill="#111"/>
<circle cx="132.10" cy="213.10" r="1.72" fill="#f8401a" stroke="#c8281a" stroke-width="0.35"/>
<circle cx="135.20" cy="216.20" r="1.72" fill="#f8401a" stroke="#c8281a" stroke-width="0.35"/>
<circle cx="131.60" cy="219.10" r="1.72" fill="#f8401a" stroke="#c8281a" stroke-width="0.35"/>
<circle cx="127.10" cy="224.00" r="1.72" fill="#f8401a" stroke="#c8281a" stroke-width="0.35"/>
<circle cx="131.00" cy="222.10" r="1.72" fill="#f8401a" stroke="#c8281a" stroke-width="0.35"/>
<circle cx="133.90" cy="223.00" r="1.72" fill="#f8401a" stroke="#c8281a" stroke-width="0.35"/>
<circle cx="132.50" cy="225.20" r="1.72" fill="#f8401a" stroke="#c8281a" stroke-width="0.35"/>
<circle cx="135.20" cy="226.30" r="1.72" fill="#f8401a" stroke="#c8281a" stroke-width="0.35"/>
<circle cx="129.80" cy="229.40" r="1.72" fill="#f8401a" stroke="#c8281a" stroke-width="0.35"/>
<circle cx="132.50" cy="230.30" r="1.72" fill="#f8401a" stroke="#c8281a" stroke-width="0.35"/>
<circle cx="135.20" cy="231.20" r="1.72" fill="#f8401a" stroke="#c8281a" stroke-width="0.35"/>
<circle cx="131.60" cy="232.10" r="1.72" fill="#f8401a" stroke="#c8281a" stroke-width="0.35"/>
<circle cx="126.70" cy="234.80" r="1.72" fill="#f8401a" stroke="#c8281a" stroke-width="0.35"/>
<circle cx="132.50" cy="237.90" r="1.72" fill="#f8401a" stroke="#c8281a" stroke-width="0.35"/>
<circle cx="132.50" cy="247.80" r="1.72" fill="#f8401a" stroke="#c8281a" stroke-width="0.35"/>
<circle cx="132.10" cy="261.30" r="1.72" fill="#f8401a" stroke="#c8281a" stroke-width="0.35"/>
<circle cx="132.10" cy="279.40" r="1.72" fill="#f8401a" stroke="#c8281a" stroke-width="0.35"/>
<circle cx="113.50" cy="253.40" r="1.72" fill="#2e7d2e" stroke="#1c5a1f" stroke-width="0.35"/>
<circle cx="121.70" cy="252.80" r="1.72" fill="#2e7d2e" stroke="#1c5a1f" stroke-width="0.35"/>
<circle cx="119.90" cy="255.20" r="1.72" fill="#2e7d2e" stroke="#1c5a1f" stroke-width="0.35"/>
<circle cx="117.10" cy="256.40" r="1.72" fill="#2e7d2e" stroke="#1c5a1f" stroke-width="0.35"/>
<circle cx="118.00" cy="258.20" r="1.72" fill="#2e7d2e" stroke="#1c5a1f" stroke-width="0.35"/>
<circle cx="120.80" cy="257.70" r="1.72" fill="#2e7d2e" stroke="#1c5a1f" stroke-width="0.35"/>
<circle cx="115.30" cy="258.80" r="1.72" fill="#2e7d2e" stroke="#1c5a1f" stroke-width="0.35"/>
<circle cx="119.00" cy="260.00" r="1.72" fill="#2e7d2e" stroke="#1c5a1f" stroke-width="0.35"/>
<circle cx="113.50" cy="261.90" r="1.72" fill="#2e7d2e" stroke="#1c5a1f" stroke-width="0.35"/>
<circle cx="119.00" cy="266.20" r="1.72" fill="#2e7d2e" stroke="#1c5a1f" stroke-width="0.35"/>
<circle cx="119.00" cy="285.70" r="1.72" fill="#2e7d2e" stroke="#1c5a1f" stroke-width="0.35"/>
<circle cx="142.40" cy="257.70" r="1.72" fill="#1f2f9c" stroke="#16237a" stroke-width="0.35"/>
<circle cx="145.10" cy="258.60" r="1.72" fill="#1f2f9c" stroke="#16237a" stroke-width="0.35"/>
<circle cx="147.80" cy="258.20" r="1.72" fill="#1f2f9c" stroke="#16237a" stroke-width="0.35"/>
<circle cx="106.30" cy="303.40" r="1.72" fill="#111"/>
<circle cx="108.70" cy="305.50" r="1.72" fill="#111"/>
<circle cx="108.70" cy="307.30" r="1.72" fill="#111"/>
<circle cx="106.30" cy="310.60" r="1.72" fill="#111"/>
<circle cx="184.50" cy="237.60" r="1.72" fill="#f8401a" stroke="#c8281a" stroke-width="0.35"/>
<circle cx="182.00" cy="245.00" r="1.72" fill="#f8401a" stroke="#c8281a" stroke-width="0.35"/>
<circle cx="185.00" cy="243.50" r="1.72" fill="#f8401a" stroke="#c8281a" stroke-width="0.35"/>
<circle cx="187.00" cy="246.00" r="1.72" fill="#f8401a" stroke="#c8281a" stroke-width="0.35"/>
<circle cx="183.00" cy="248.00" r="1.72" fill="#f8401a" stroke="#c8281a" stroke-width="0.35"/>
<circle cx="186.00" cy="248.00" r="1.72" fill="#f8401a" stroke="#c8281a" stroke-width="0.35"/>
<circle cx="179.10" cy="252.10" r="1.72" fill="#f8401a" stroke="#c8281a" stroke-width="0.35"/>
<circle cx="181.80" cy="251.20" r="1.72" fill="#f8401a" stroke="#c8281a" stroke-width="0.35"/>
<circle cx="187.20" cy="252.10" r="1.72" fill="#f8401a" stroke="#c8281a" stroke-width="0.35"/>
<circle cx="184.50" cy="255.30" r="1.72" fill="#f8401a" stroke="#c8281a" stroke-width="0.35"/>
<circle cx="184.50" cy="264.70" r="1.72" fill="#f8401a" stroke="#c8281a" stroke-width="0.35"/>
<circle cx="184.50" cy="273.90" r="1.72" fill="#f8401a" stroke="#c8281a" stroke-width="0.35"/>
<circle cx="184.40" cy="282.10" r="1.72" fill="#f8401a" stroke="#c8281a" stroke-width="0.35"/>
<circle cx="194.40" cy="266.20" r="1.72" fill="#1f2f9c" stroke="#16237a" stroke-width="0.35"/>
<circle cx="197.10" cy="268.30" r="1.72" fill="#1f2f9c" stroke="#16237a" stroke-width="0.35"/>
<circle cx="199.80" cy="267.40" r="1.72" fill="#1f2f9c" stroke="#16237a" stroke-width="0.35"/>
<circle cx="166.00" cy="276.30" r="1.72" fill="#2e7d2e" stroke="#1c5a1f" stroke-width="0.35"/>
<circle cx="170.20" cy="279.30" r="1.72" fill="#2e7d2e" stroke="#1c5a1f" stroke-width="0.35"/>
<circle cx="172.60" cy="279.60" r="1.72" fill="#2e7d2e" stroke="#1c5a1f" stroke-width="0.35"/>
<circle cx="171.20" cy="281.40" r="1.72" fill="#2e7d2e" stroke="#1c5a1f" stroke-width="0.35"/>
<circle cx="169.00" cy="281.60" r="1.72" fill="#2e7d2e" stroke="#1c5a1f" stroke-width="0.35"/>
<circle cx="171.30" cy="283.20" r="1.72" fill="#2e7d2e" stroke="#1c5a1f" stroke-width="0.35"/>
<circle cx="173.60" cy="281.60" r="1.72" fill="#2e7d2e" stroke="#1c5a1f" stroke-width="0.35"/>
<circle cx="153.40" cy="303.30" r="1.72" fill="#111"/>
<circle cx="158.25" cy="307.20" r="1.72" fill="#111"/>
<circle cx="161.00" cy="310.00" r="1.72" fill="#111"/>
<circle cx="158.25" cy="311.70" r="1.72" fill="#111"/>
<circle cx="158.25" cy="314.20" r="1.72" fill="#111"/>
<circle cx="231.00" cy="242.50" r="1.72" fill="#f8401a" stroke="#c8281a" stroke-width="0.35"/>
<circle cx="236.40" cy="243.00" r="1.72" fill="#f8401a" stroke="#c8281a" stroke-width="0.35"/>
<circle cx="236.40" cy="244.90" r="1.72" fill="#f8401a" stroke="#c8281a" stroke-width="0.35"/>
<circle cx="234.00" cy="248.10" r="1.72" fill="#f8401a" stroke="#c8281a" stroke-width="0.35"/>
<circle cx="238.20" cy="247.60" r="1.72" fill="#f8401a" stroke="#c8281a" stroke-width="0.35"/>
<circle cx="236.40" cy="249.90" r="1.72" fill="#f8401a" stroke="#c8281a" stroke-width="0.35"/>
<circle cx="239.10" cy="249.40" r="1.72" fill="#f8401a" stroke="#c8281a" stroke-width="0.35"/>
<circle cx="236.40" cy="258.90" r="1.72" fill="#f8401a" stroke="#c8281a" stroke-width="0.35"/>
<circle cx="236.40" cy="266.20" r="1.72" fill="#f8401a" stroke="#c8281a" stroke-width="0.35"/>
<circle cx="246.30" cy="264.70" r="1.72" fill="#1f2f9c" stroke="#16237a" stroke-width="0.35"/>
<circle cx="249.00" cy="267.40" r="1.72" fill="#1f2f9c" stroke="#16237a" stroke-width="0.35"/>
<circle cx="252.10" cy="264.70" r="1.72" fill="#1f2f9c" stroke="#16237a" stroke-width="0.35"/>
<circle cx="223.60" cy="275.70" r="1.72" fill="#2e7d2e" stroke="#1c5a1f" stroke-width="0.35"/>
<circle cx="218.00" cy="279.80" r="1.72" fill="#2e7d2e" stroke="#1c5a1f" stroke-width="0.35"/>
<circle cx="223.60" cy="282.10" r="1.72" fill="#2e7d2e" stroke="#1c5a1f" stroke-width="0.35"/>
<circle cx="223.60" cy="293.70" r="1.72" fill="#2e7d2e" stroke="#1c5a1f" stroke-width="0.35"/>
<circle cx="204.50" cy="304.00" r="1.72" fill="#111"/>
<circle cx="210.60" cy="308.60" r="1.72" fill="#111"/>
<circle cx="213.70" cy="310.90" r="1.72" fill="#111"/>
<circle cx="210.60" cy="314.70" r="1.72" fill="#111"/>
<circle cx="285.60" cy="251.70" r="1.72" fill="#f8401a" stroke="#c8281a" stroke-width="0.35"/>
<circle cx="290.00" cy="250.60" r="1.72" fill="#f8401a" stroke="#c8281a" stroke-width="0.35"/>
<circle cx="291.10" cy="253.30" r="1.72" fill="#f8401a" stroke="#c8281a" stroke-width="0.35"/>
<circle cx="287.80" cy="254.40" r="1.72" fill="#f8401a" stroke="#c8281a" stroke-width="0.35"/>
<circle cx="286.10" cy="256.70" r="1.72" fill="#f8401a" stroke="#c8281a" stroke-width="0.35"/>
<circle cx="289.40" cy="256.70" r="1.72" fill="#f8401a" stroke="#c8281a" stroke-width="0.35"/>
<circle cx="291.70" cy="258.30" r="1.72" fill="#f8401a" stroke="#c8281a" stroke-width="0.35"/>
<circle cx="283.90" cy="260.00" r="1.72" fill="#f8401a" stroke="#c8281a" stroke-width="0.35"/>
<circle cx="288.30" cy="259.40" r="1.72" fill="#f8401a" stroke="#c8281a" stroke-width="0.35"/>
<circle cx="283.30" cy="261.10" r="1.72" fill="#f8401a" stroke="#c8281a" stroke-width="0.35"/>
<circle cx="290.60" cy="260.60" r="1.72" fill="#f8401a" stroke="#c8281a" stroke-width="0.35"/>
<circle cx="288.90" cy="268.30" r="1.72" fill="#f8401a" stroke="#c8281a" stroke-width="0.35"/>
<circle cx="283.30" cy="271.70" r="1.72" fill="#f8401a" stroke="#c8281a" stroke-width="0.35"/>
<circle cx="288.90" cy="277.20" r="1.72" fill="#f8401a" stroke="#c8281a" stroke-width="0.35"/>
<circle cx="288.90" cy="290.60" r="1.72" fill="#f8401a" stroke="#c8281a" stroke-width="0.35"/>
<circle cx="298.90" cy="268.30" r="1.72" fill="#1f2f9c" stroke="#16237a" stroke-width="0.35"/>
<circle cx="301.70" cy="270.30" r="1.72" fill="#1f2f9c" stroke="#16237a" stroke-width="0.35"/>
<circle cx="304.40" cy="268.60" r="1.72" fill="#1f2f9c" stroke="#16237a" stroke-width="0.35"/>
<circle cx="275.60" cy="286.90" r="1.72" fill="#2e7d2e" stroke="#1c5a1f" stroke-width="0.35"/>
<circle cx="273.30" cy="313.30" r="1.72" fill="#2e7d2e" stroke="#1c5a1f" stroke-width="0.35"/>
<circle cx="277.20" cy="312.60" r="1.72" fill="#2e7d2e" stroke="#1c5a1f" stroke-width="0.35"/>
<circle cx="275.60" cy="313.90" r="1.72" fill="#2e7d2e" stroke="#1c5a1f" stroke-width="0.35"/>
<circle cx="262.60" cy="303.70" r="1.72" fill="#111"/>
<circle cx="259.70" cy="310.20" r="1.72" fill="#111"/>
<circle cx="262.60" cy="315.00" r="1.72" fill="#111"/>
</svg>
</body></html>
